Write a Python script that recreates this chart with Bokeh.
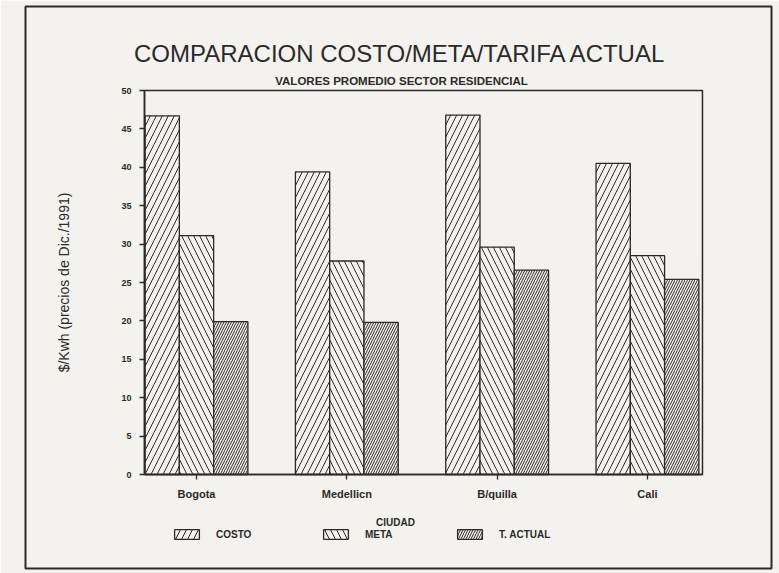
from bokeh.plotting import figure
from bokeh.models import (Range1d, FixedTicker, Legend, LegendItem, Label,
                          BoxAnnotation, ColumnDataSource)
from bokeh.transform import dodge
from bokeh.embed import file_html
from bokeh.resources import INLINE

# Average residential values, $/kWh (Dec. 1991 prices)
cities = ["Bogota", "Medellicn", "B/quilla", "Cali"]
costo = [46.7, 39.4, 46.8, 40.5]
meta = [31.1, 27.8, 29.6, 28.5]
actual = [19.9, 19.8, 26.6, 25.4]
y_ticks = [0, 5, 10, 15, 20, 25, 30, 35, 40, 45, 50]

PAPER = "#f4f2ee"
INK = "#2a2a2a"
BAR_W = 0.228
FONT = "Liberation Sans"

# extent of the bar area inside the bordered panel
X_LO, X_HI = -0.346, 3.366
Y_LO, Y_HI = 0, 50

src = ColumnDataSource(dict(pos=list(range(len(cities))), city=cities,
                            costo=costo, meta=meta, actual=actual))

# the frame is the whole bordered panel; the bar area sits inside it
p = figure(width=779, height=573, output_backend="svg", toolbar_location=None,
           x_range=Range1d(-1.1376, 3.8252), y_range=Range1d(-12.24, 60.94),
           min_border_left=25, min_border_right=8,
           min_border_top=6, min_border_bottom=5, title=None)
p.background_fill_color = PAPER
p.border_fill_color = PAPER
p.outline_line_color = INK
p.outline_line_width = 2
p.grid.visible = False

# box around the bar area
p.add_layout(BoxAnnotation(left=X_LO, right=X_HI, bottom=Y_LO, top=Y_HI,
                           fill_alpha=0, line_color=INK, line_alpha=1,
                           line_width=1.5))

common = dict(width=BAR_W, bottom=0, source=src, fill_color=PAPER,
              line_color=INK, line_width=1.3, hatch_color=INK, hatch_weight=1)
r_costo = p.vbar(x=dodge("pos", -BAR_W, range=p.x_range), top="costo",
                 hatch_pattern="/", hatch_scale=12, **common)
r_meta = p.vbar(x=dodge("pos", 0, range=p.x_range), top="meta",
                hatch_pattern="\\", hatch_scale=12, **common)
r_actual = p.vbar(x=dodge("pos", BAR_W, range=p.x_range), top="actual",
                  hatch_pattern="/", hatch_scale=5, **common)

# axes pinned to the edges of the bar area
p.xaxis.fixed_location = Y_LO
p.xaxis.bounds = (X_LO, X_HI)
p.yaxis.fixed_location = X_LO
p.yaxis.bounds = (Y_LO, Y_HI)
p.yaxis.ticker = FixedTicker(ticks=y_ticks)
p.xaxis.ticker = FixedTicker(ticks=list(range(len(cities))))
p.xaxis.major_label_overrides = {i: c for i, c in enumerate(cities)}
for ax in (p.xaxis, p.yaxis):
    ax.axis_line_color = INK
    ax.axis_line_width = 1.5
    ax.major_tick_line_color = INK
    ax.major_tick_line_width = 1.3
    ax.major_tick_in = 0
    ax.major_tick_out = 5
    ax.minor_tick_line_color = None
    ax.major_label_text_font = FONT
    ax.major_label_text_font_style = "bold"
    ax.major_label_text_color = INK
    ax.axis_label_text_font = FONT
    ax.axis_label_text_color = INK
p.yaxis.major_label_text_font_size = "9px"
p.xaxis.major_label_text_font_size = "11px"
p.xaxis.major_label_standoff = 8
p.yaxis.major_label_standoff = 8

p.yaxis.axis_label = "$/Kwh (precios de Dic./1991)"
p.yaxis.axis_label_text_font_style = "normal"
p.yaxis.axis_label_text_font_size = "14px"
p.yaxis.axis_label_standoff = 46

text_common = dict(x_units="data", y_units="data", text_align="center",
                   text_baseline="middle", text_color=INK, text_font=FONT)
p.add_layout(Label(x=1.357, y=54.82, text="COMPARACION COSTO/META/TARIFA ACTUAL",
                   text_font_size="24px", **text_common))
p.add_layout(Label(x=1.364, y=51.3, text="VALORES PROMEDIO SECTOR RESIDENCIAL",
                   text_font_size="11.5px", text_font_style="bold", **text_common))
p.add_layout(Label(x=1.324, y=-6.25, text="CIUDAD", text_font_size="10px",
                   text_font_style="bold", **text_common))

# one legend entry per box, in a row under the axis
entries = [("COSTO", r_costo, 146), ("META", r_meta, 295), ("T. ACTUAL", r_actual, 429)]
for label, rend, xoff in entries:
    p.add_layout(Legend(items=[LegendItem(label=label, renderers=[rend])],
                        location=(xoff, 28), orientation="horizontal",
                        glyph_width=31, glyph_height=12, label_standoff=14,
                        padding=0, margin=0, border_line_alpha=0,
                        background_fill_alpha=0,
                        label_text_font=FONT, label_text_font_style="bold",
                        label_text_font_size="10px", label_text_color=INK),
                 "center")

open("out.html", "w").write(file_html(p, INLINE))
